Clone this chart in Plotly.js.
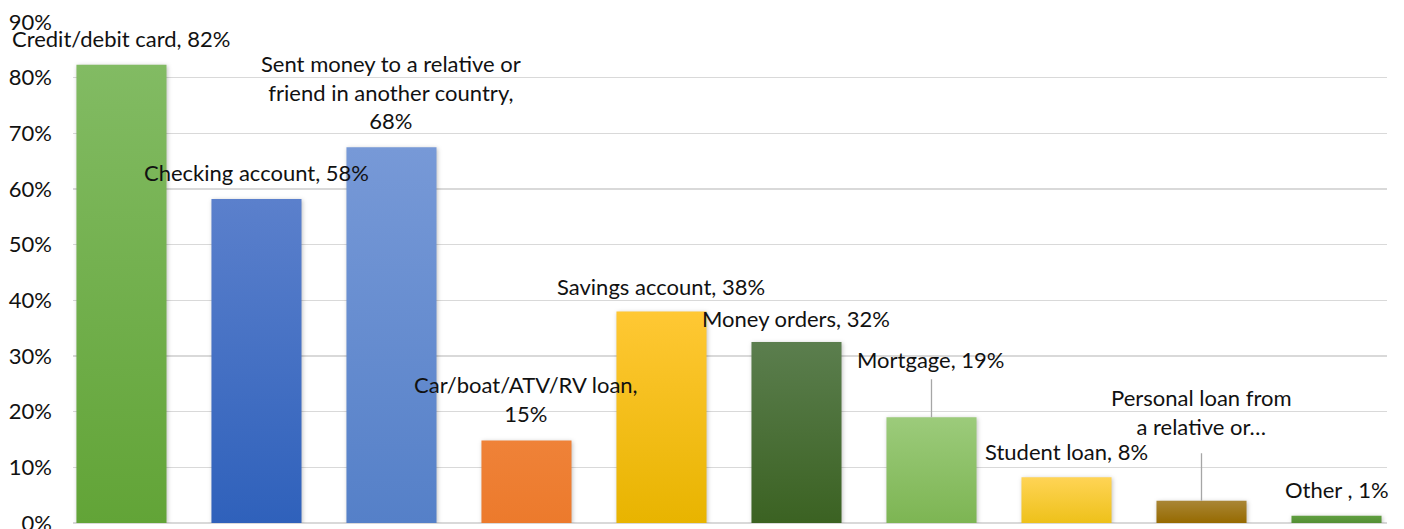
<!DOCTYPE html>
<html>
<head>
<meta charset="utf-8">
<script src="https://cdn.plot.ly/plotly-3.0.1.min.js"></script>
<style>
  html, body { margin: 0; padding: 0; background: #ffffff; }
  #chart { width: 1404px; height: 529px; }
</style>
</head>
<body>
<div id="chart"></div>
<script>
// ---- data ----
const categories = [
  "Credit/debit card",
  "Checking account",
  "Sent money to a relative or friend in another country",
  "Car/boat/ATV/RV loan",
  "Savings account",
  "Money orders",
  "Mortgage",
  "Student loan",
  "Personal loan from a relative or friend",
  "Other"
];
const values = [0.823, 0.582, 0.675, 0.148, 0.38, 0.325, 0.19, 0.082, 0.04, 0.013];
const labelTexts = [
  "Credit/debit card, 82%",
  "Checking account, 58%",
  "Sent money to a relative or<br>friend in another country,<br>68%",
  "Car/boat/ATV/RV loan,<br>15%",
  "Savings account, 38%",
  "Money orders, 32%",
  "Mortgage, 19%",
  "Student loan, 8%",
  "Personal loan from<br>a relative or…",
  "Other , 1%"
];
const yTickVals = [0, 0.1, 0.2, 0.3, 0.4, 0.5, 0.6, 0.7, 0.8, 0.9];

// ---- styles (kept apart from data) ----
const colorsTop    = ["#82bb63", "#5b80cc", "#7799d7", "#ef8238", "#ffc834", "#5b7e4e", "#9ccb7b", "#ffd455", "#a98636", "#609f40"];
const colorsBottom = ["#62a437", "#2f61bb", "#5580c8", "#ec7a2c", "#e8b400", "#3b6222", "#7db553", "#eec11a", "#966a00", "#548f35"];
const colorsMid    = ["#72ae4d", "#4571c4", "#668dcf", "#ed7e32", "#f5bf1a", "#4a7038", "#8dc067", "#f7cb38", "#9f781b", "#5a973a"];
// label offsets in px above bar top (text block centre); leader lines where arrow=true
const labelShift = [26, 27, 55, 42, 25, 24, 58, 26, 89, 26];
const labelArrow = [false, false, false, false, false, false, true, false, true, false];
const labelPad   = [1, 1, 1, 1, 1, 1, 6, 1, 13, 1];

const FONT = "Lato, 'Liberation Sans', Arial, sans-serif";
const xIdx = categories.map((c, i) => i);

const trace = {
  type: "bar",
  x: xIdx,
  y: values,
  marker: { color: colorsMid, line: { width: 0 } },
  hoverinfo: "skip",
  showlegend: false
};

const annotations = labelTexts.map((t, i) => {
  const a = {
    x: xIdx[i],
    y: values[i],
    xref: "x",
    yref: "y",
    text: t,
    font: { family: FONT, size: 22, color: "#111111" },
    align: "center",
    xanchor: "center",
    yanchor: "middle"
  };
  if (labelArrow[i]) {
    a.showarrow = true;
    a.arrowhead = 0;
    a.arrowwidth = 1.3;
    a.arrowcolor = "#a6a6a6";
    a.ax = 0;
    a.ay = -labelShift[i];
    a.standoff = 0;
    a.borderpad = labelPad[i];
  } else {
    a.showarrow = false;
    a.yshift = labelShift[i];
  }
  return a;
});

const layout = {
  width: 1404,
  height: 529,
  margin: { l: 73, r: 17, t: 22, b: 6, pad: 0 },
  paper_bgcolor: "#ffffff",
  plot_bgcolor: "#ffffff",
  bargap: 0.333,
  xaxis: {
    range: [-0.359, 9.374],
    showticklabels: false,
    showgrid: false,
    zeroline: false,
    showline: false,
    ticks: "",
    fixedrange: true
  },
  yaxis: {
    range: [0, 0.9],
    tickvals: yTickVals,
    tickformat: ".0%",
    showgrid: true,
    gridcolor: "#d9d9d9",
    gridwidth: 1.3,
    zeroline: true,
    zerolinecolor: "#d9d9d9",
    zerolinewidth: 1.3,
    showline: false,
    ticks: "",
    ticklabelstandoff: 20,
    ticklabeloverflow: "allow",
    tickfont: { family: FONT, size: 22, color: "#111111" },
    fixedrange: true
  },
  annotations: annotations
};

function applyGradients(gd) {
  const svg = gd.querySelector("svg.main-svg");
  if (!svg) return;
  const ns = "http://www.w3.org/2000/svg";
  let defs = svg.querySelector("defs");
  if (!defs) { defs = document.createElementNS(ns, "defs"); svg.insertBefore(defs, svg.firstChild); }
  colorsTop.forEach((c, i) => {
    const id = "barGrad" + i;
    if (document.getElementById(id)) return;
    const g = document.createElementNS(ns, "linearGradient");
    g.setAttribute("id", id);
    g.setAttribute("x1", "0"); g.setAttribute("y1", "0");
    g.setAttribute("x2", "0"); g.setAttribute("y2", "1");
    const s1 = document.createElementNS(ns, "stop");
    s1.setAttribute("offset", "0%"); s1.setAttribute("stop-color", colorsTop[i]);
    const s2 = document.createElementNS(ns, "stop");
    s2.setAttribute("offset", "100%"); s2.setAttribute("stop-color", colorsBottom[i]);
    g.appendChild(s1); g.appendChild(s2);
    defs.appendChild(g);
  });
  gd.querySelectorAll(".barlayer .point path").forEach((p, i) => {
    p.style.fill = "url(#barGrad" + i + ")";
    p.style.filter = "drop-shadow(1px 1px 2px rgba(0,0,0,0.25))";
  });
}

const gd = document.getElementById("chart");
Plotly.newPlot(gd, [trace], layout, { displayModeBar: false, staticPlot: true }).then(() => {
  applyGradients(gd);
  gd.on && gd.on("plotly_afterplot", () => applyGradients(gd));
});
</script>
</body>
</html>
